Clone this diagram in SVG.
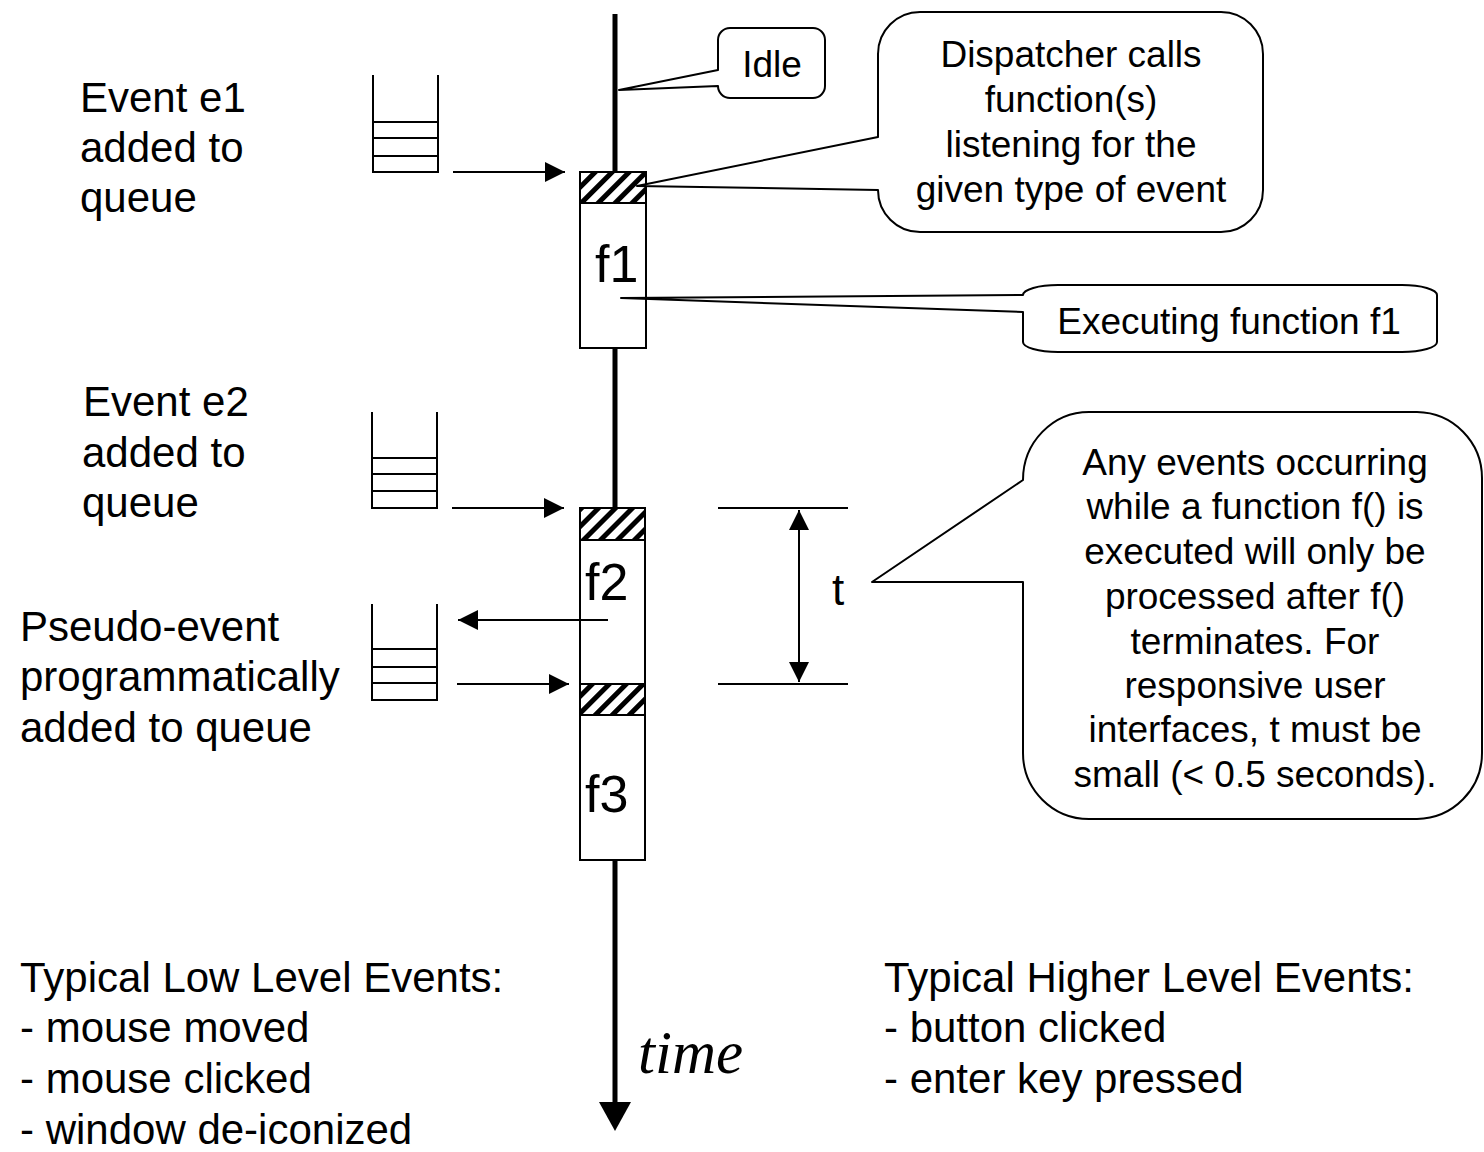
<svg xmlns="http://www.w3.org/2000/svg" width="1484" height="1152" viewBox="0 0 1484 1152">
<style>
text{font-family:"Liberation Sans",Arial,sans-serif;fill:#000}
.lbl{font-size:42px}
.co{font-size:37px;text-anchor:middle}
.fn{font-size:52px}
.ln{stroke:#000;stroke-width:2;fill:none}
.box{fill:#fff;stroke:#000;stroke-width:2}
.call{fill:#fff;stroke:#000;stroke-width:2;stroke-linejoin:round}
.tl{stroke:#000;stroke-width:5;fill:none}
</style>
<defs>
<pattern id="hatch" width="12" height="12" patternUnits="userSpaceOnUse" patternTransform="rotate(45)">
<rect width="12" height="12" fill="#fff"/>
<rect width="5" height="12" fill="#000"/>
</pattern>
<marker id="ah" viewBox="0 0 20 20" refX="20" refY="10" markerWidth="20" markerHeight="20" markerUnits="userSpaceOnUse" orient="auto-start-reverse">
<path d="M0 0 L20 10 L0 20 Z" fill="#000"/>
</marker>
</defs>

<g id="queue1">
<path class="ln" d="M373 75 V172 H438 V75 M373 122 H438 M373 138 H438 M373 156 H438"/>
</g>
<g id="queue2">
<path class="ln" d="M372 412 V508 H437 V412 M372 458 H437 M372 474 H437 M372 491 H437"/>
</g>
<g id="queue3">
<path class="ln" d="M372 604 V700 H437 V604 M372 649 H437 M372 667 H437 M372 683 H437"/>
</g>

<g id="f1">
<rect class="box" x="580" y="172" width="66" height="176"/>
<rect x="580" y="172" width="66" height="31" fill="url(#hatch)" stroke="#000" stroke-width="2"/>
<text class="fn" x="595" y="282">f1</text>
</g>
<g id="f2">
<rect class="box" x="580" y="508" width="65" height="176"/>
<rect x="580" y="508" width="65" height="32" fill="url(#hatch)" stroke="#000" stroke-width="2"/>
<text class="fn" x="585" y="600">f2</text>
</g>
<g id="f3">
<rect class="box" x="580" y="684" width="65" height="176"/>
<rect x="580" y="684" width="65" height="31" fill="url(#hatch)" stroke="#000" stroke-width="2"/>
<text class="fn" x="585" y="812">f3</text>
</g>

<g id="connectors">
<line class="tl" x1="615" y1="14" x2="615" y2="172"/>
<line class="tl" x1="615" y1="348" x2="615" y2="508"/>
<line class="tl" x1="615" y1="860" x2="615" y2="1104"/>
<path d="M599 1102 L631 1102 L615 1131 Z" fill="#000"/>
<line class="ln" x1="453" y1="172" x2="565" y2="172" marker-end="url(#ah)"/>
<line class="ln" x1="452" y1="508" x2="564" y2="508" marker-end="url(#ah)"/>
<line class="ln" x1="608" y1="620" x2="458" y2="620" marker-end="url(#ah)"/>
<line class="ln" x1="457" y1="684" x2="569" y2="684" marker-end="url(#ah)"/>
<line class="ln" x1="718" y1="508" x2="848" y2="508"/>
<line class="ln" x1="718" y1="684" x2="848" y2="684"/>
<line class="ln" x1="799" y1="510" x2="799" y2="682" marker-start="url(#ah)" marker-end="url(#ah)"/>
</g>

<g id="callout-idle">
<path class="call" d="M730 28 H813 A12 12 0 0 1 825 40 V86 A12 12 0 0 1 813 98 H730 A12 12 0 0 1 718 86 L619 90 L718 70 V40 A12 12 0 0 1 730 28 Z"/>
<text class="co" x="772" y="77">Idle</text>
</g>

<g id="callout-dispatcher">
<path class="call" d="M920 12 H1221 A42 42 0 0 1 1263 54 V190 A42 42 0 0 1 1221 232 H920 A42 42 0 0 1 878 190 L637 186 L878 137 V54 A42 42 0 0 1 920 12 Z"/>
<text class="co" x="1071" y="67">Dispatcher calls</text>
<text class="co" x="1071" y="112">function(s)</text>
<text class="co" x="1071" y="157">listening for the</text>
<text class="co" x="1071" y="202">given type of event</text>
</g>

<g id="callout-executing">
<path class="call" d="M1058 285 H1402 A35 10 0 0 1 1437 295 V342 A35 10 0 0 1 1402 352 H1058 A35 10 0 0 1 1023 342 V312 L621 298 L1023 295 A35 10 0 0 1 1058 285 Z"/>
<text class="co" x="1229" y="334">Executing function f1</text>
</g>

<g id="callout-any">
<path class="call" d="M1089 412 H1417 A66 66 0 0 1 1482 478 V753 A66 66 0 0 1 1417 819 H1089 A66 66 0 0 1 1023 753 V582 L872 582 L1023 480 A66 68 0 0 1 1089 412 Z"/>
<text class="co" x="1255" y="475">Any events occurring</text>
<text class="co" x="1255" y="519">while a function f() is</text>
<text class="co" x="1255" y="564">executed will only be</text>
<text class="co" x="1255" y="609">processed after f()</text>
<text class="co" x="1255" y="654">terminates. For</text>
<text class="co" x="1255" y="698">responsive user</text>
<text class="co" x="1255" y="742">interfaces, t must be</text>
<text class="co" x="1255" y="787">small (&lt; 0.5 seconds).</text>
</g>

<g id="label-e1">
<text class="lbl" x="80" y="112">Event e1</text>
<text class="lbl" x="80" y="162">added to</text>
<text class="lbl" x="80" y="212">queue</text>
</g>
<g id="label-e2">
<text class="lbl" x="83" y="416">Event e2</text>
<text class="lbl" x="82" y="467">added to</text>
<text class="lbl" x="82" y="517">queue</text>
</g>
<g id="label-pseudo">
<text class="lbl" x="20" y="641">Pseudo-event</text>
<text class="lbl" x="20" y="691">programmatically</text>
<text class="lbl" x="20" y="742">added to queue</text>
</g>
<g id="label-t">
<text x="832" y="605" style="font-size:44px">t</text>
</g>
<g id="label-time">
<text x="638" y="1073" style="font-family:'Liberation Serif','Times New Roman',serif;font-style:italic;font-size:61px">time</text>
</g>
<g id="low-level">
<text class="lbl" x="20" y="992">Typical Low Level Events:</text>
<text class="lbl" x="20" y="1042">- mouse moved</text>
<text class="lbl" x="20" y="1093">- mouse clicked</text>
<text class="lbl" x="20" y="1144">- window de-iconized</text>
</g>
<g id="high-level">
<text class="lbl" x="884" y="992">Typical Higher Level Events:</text>
<text class="lbl" x="884" y="1042">- button clicked</text>
<text class="lbl" x="884" y="1093">- enter key pressed</text>
</g>
</svg>
